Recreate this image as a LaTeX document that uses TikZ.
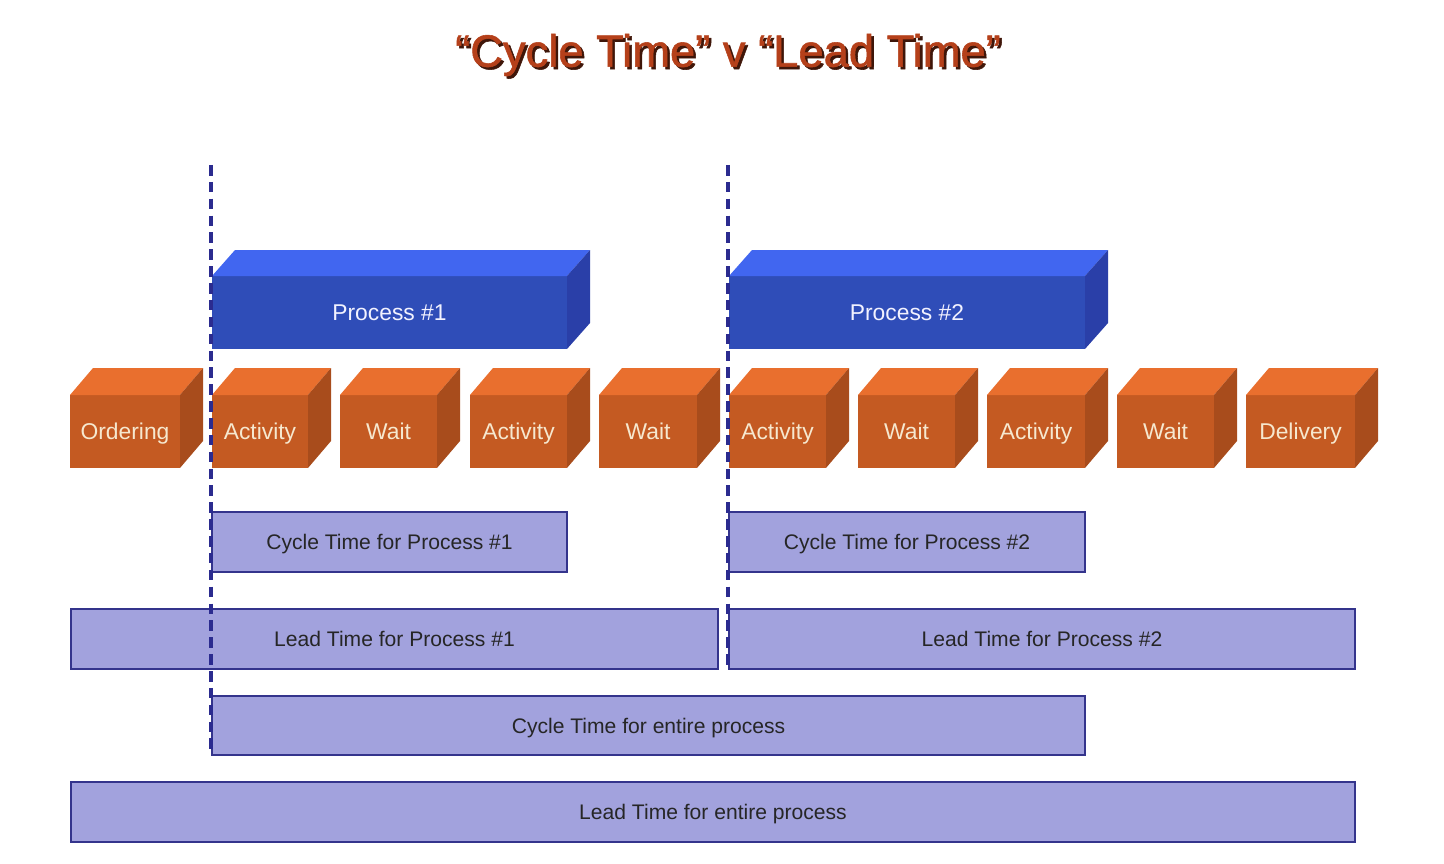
\documentclass[tikz,border=0pt]{standalone}
\usepackage{fontspec}
\setmainfont{Liberation Sans}
\newfontfamily\titlefont[FakeBold=1.2,Ligatures=TeX]{Liberation Sans}
\definecolor{ofront}{HTML}{C45A22}
\definecolor{otop}{HTML}{E96F2E}
\definecolor{oside}{HTML}{A84C1C}
\definecolor{bfront}{HTML}{2F4DB8}
\definecolor{btop}{HTML}{4166F0}
\definecolor{bside}{HTML}{2A3FA8}
\definecolor{barfill}{HTML}{A2A2DD}
\definecolor{barline}{HTML}{34348C}
\definecolor{dashc}{HTML}{2B2B8F}
\definecolor{titlec}{HTML}{B5401A}
\definecolor{cubetxt}{HTML}{F6E8CF}
\tikzset{
  face/.style={rectangle,inner sep=0pt,outer sep=0pt,minimum height=1.46cm,text height=9.3pt,text depth=0pt,
    font=\fontsize{13}{16}\selectfont,text=cubetxt},
  bar/.style={rectangle,draw=barline,line width=0.8pt,fill=barfill,inner sep=0pt,minimum height=1.2cm,
    text height=8.6pt,text depth=0pt,font=\fontsize{12}{14}\selectfont,text=black!85},
  cut/.style={dashc,line width=2.4pt,dash pattern=on 6pt off 3.6pt},
}
\begin{document}
\begin{tikzpicture}[x=0.02cm,y=-0.02cm]
\useasboundingbox (0,0) rectangle (1444,864);
\node[font=\titlefont\fontsize{25.8}{30}\selectfont,text=black!65!titlec] (tshadow) at (730.5,57.5){“Cycle Time” v “Lead Time”};
\node[font=\titlefont\fontsize{25.8}{30}\selectfont,text=titlec] (title) at (728,55){“Cycle Time” v “Lead Time”};
% process boxes
\foreach \n/\x/\w/\t in {p1/212/355/Process \#1, p2/729/356/Process \#2}{
  \node[face,fill=bfront,text=blue!5,minimum width={\w*0.02cm}] (\n) at (\x+\w/2,312.5){\t};
  \fill[btop] (\n.north west) -- ++(23,-26) -- ++(\w,0) -- (\n.north east) -- cycle;
  \fill[bside] (\n.north east) -- ++(23,-26) -- ++(0,73) -- (\n.south east) -- cycle;
}
% steps
\foreach \n/\x/\w/\t in {ord/70/110/Ordering, a1/212/96/Activity, w1/340/97/Wait, a2/470/97/Activity,
  w2/599/98/Wait, a3/729/97/Activity, w3/858/97/Wait, a4/987/98/Activity, w4/1117/97/Wait, del/1246/109/Delivery}{
  \node[face,fill=ofront,minimum width={\w*0.02cm}] (\n) at (\x+\w/2,431.5){\t};
  \fill[otop] (\n.north west) -- ++(23,-27) -- ++(\w,0) -- (\n.north east) -- cycle;
  \fill[oside] (\n.north east) -- ++(23,-27) -- ++(0,73) -- (\n.south east) -- cycle;
}
% time bars
\node[bar,minimum width=7.1cm] (ct1) at (389.5,542){Cycle Time for Process \#1};
\node[bar,minimum width=7.12cm] (ct2) at (907,542){Cycle Time for Process \#2};
\node[bar,minimum width=12.94cm] (lt1) at (394.5,639){Lead Time for Process \#1};
\node[bar,minimum width=12.52cm] (lt2) at (1042,639){Lead Time for Process \#2};
\node[bar,minimum width=17.46cm,minimum height=1.18cm] (ctall) at (648.5,725.5){Cycle Time for entire process};
\node[bar,minimum width=25.68cm] (ltall) at (713,812){Lead Time for entire process};
% cut lines
\coordinate (c1top) at (211,165); \coordinate (c1bot) at (211,755);
\coordinate (c2top) at (728,165); \coordinate (c2bot) at (728,668);
\draw[cut] (c1top) -- (c1bot); \draw[cut] (c2top) -- (c2bot);
\end{tikzpicture}
\end{document}
